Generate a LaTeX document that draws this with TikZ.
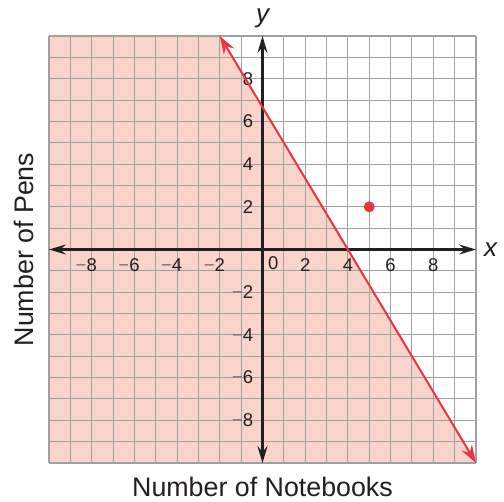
\documentclass[tikz,border=0pt]{standalone}
\usepackage{fontspec}
\setmainfont{Liberation Sans}
\usetikzlibrary{arrows.meta}
\definecolor{pinkfill}{HTML}{F9D4CA}
\definecolor{gridgray}{HTML}{A0A0A0}
\definecolor{linered}{HTML}{EC3540}
\definecolor{axisblack}{HTML}{231F20}
\definecolor{minusgray}{HTML}{707070}
\tikzset{
  gridline/.style={gridgray, line width=1.05pt},
  axisline/.style={axisblack, line width=2.4pt,
    {Stealth[length=17pt,width=10pt,inset=6pt]}-{Stealth[length=17pt,width=10pt,inset=6pt]}},
  redline/.style={linered, line width=2pt,
    {Stealth[length=18pt,width=12pt,inset=6pt]}-{Stealth[length=18pt,width=12pt,inset=6pt]}},
  ticklab/.style={inner sep=0pt, text=axisblack, font=\fontsize{18.5}{20}\selectfont},
  axtitle/.style={inner sep=0pt, text=axisblack, font=\fontsize{26.8}{30}\selectfont},
  varlab/.style={inner sep=0pt, text=axisblack, font=\fontsize{26}{30}\selectfont\itshape},
  reddot/.style={circle, fill=linered, inner sep=0pt, minimum size=11pt}
}
\newcommand{\negnum}[1]{\llap{\textcolor{minusgray}{−}}#1}
\begin{document}
\begin{tikzpicture}[x=21.35pt,y=21.35pt]
\useasboundingbox (-12.295,-11.78) rectangle (11.311,11.686);
% shaded half-plane
\fill[pinkfill] (-10,10) -- (-2,10) -- (10,-10) -- (-10,-10) -- cycle;
% grid
\foreach \k in {-10,...,10} {
  \draw[gridline] (\k,-10) -- (\k,10);
  \draw[gridline] (-10,\k) -- (10,\k);
}
% axes
\coordinate (xleft) at (-10,0);
\coordinate (xright) at (10,0);
\coordinate (ybottom) at (0,-10);
\coordinate (ytop) at (0,10);
\draw[axisline] (xleft) -- (xright);
\draw[axisline] (ybottom) -- (ytop);
% tick labels
\foreach \v in {2,4,6,8} {
  \node[ticklab] (xp\v) at (\v,-0.73) {\v};
  \node[ticklab] (xn\v) at (-\v,-0.73) {\negnum{\v}};
  \node[ticklab] (yp\v) at (-0.68,\v) {\v};
  \node[ticklab] (yn\v) at (-0.68,-\v) {\negnum{\v}};
}
\node[ticklab] (zero) at (0.5,-0.66) {0};
% axis variable labels
\node[varlab] (xlab) at (10.69,0) {x};
\node[varlab] (ylab) at (0,10.83) {y};
% titles
\node[axtitle] (xtitle) at (0,-11.12) {Number of Notebooks};
\node[axtitle, rotate=90] (ytitle) at (-11.19,0) {Number of Pens};
% boundary line
\coordinate (la) at (-2,10);
\coordinate (lb) at (10,-10);
\draw[redline] (la) -- (lb);
% test point
\node[reddot] (pt) at (5,2) {};
\end{tikzpicture}
\end{document}
